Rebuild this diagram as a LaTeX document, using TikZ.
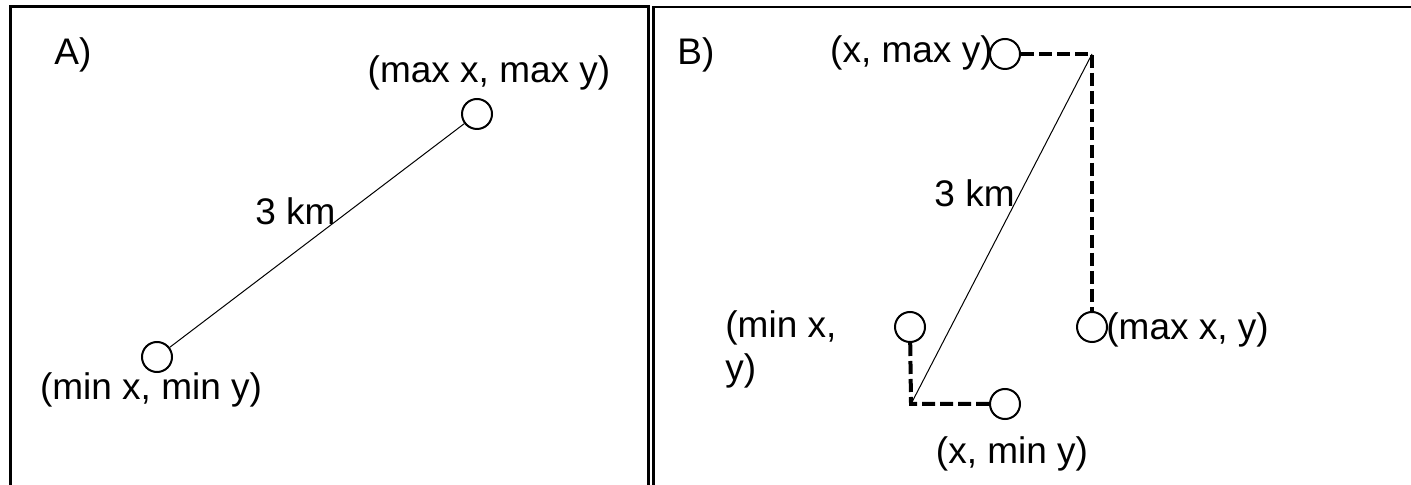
\documentclass[tikz,border=0pt]{standalone}
\usepackage{fontspec}
\setmainfont{Liberation Sans}
\usetikzlibrary{calc, positioning}

\tikzset{
  frame/.style={line width=1.5pt, line cap=rect},
  station/.style={circle, draw, line width=1pt, inner sep=0pt, minimum size=15pt},
  lbl/.style={inner sep=0pt, font=\fontsize{18.5}{21.5}\selectfont},
  dist/.style={line width=0.5pt},
  offset/.style={line width=2pt, dash pattern=on 6.5pt off 2.5pt}
}

\begin{document}
\begin{tikzpicture}[x=0.5pt, y=-0.5pt]
\useasboundingbox (0,0) rectangle (1411,485);

\draw[frame] (10,490) -- (10,7) -- (648.5,7) -- (648.5,490);
\draw[frame, line width=1.25pt] (653.5,490) -- (653.5,7) -- (1416,7);

% panel A
\node[lbl, anchor=base west] (tagA) at (54,65) {A)};
\node[station] (minA) at (157,357) {};
\node[station] (maxA) at (477,114) {};
\draw[dist] (minA) -- (maxA);
\node[lbl, anchor=base] (maxAtxt) at (489,83) {(max x, max y)};
\node[lbl, anchor=base] (minAtxt) at (151,400) {(min x, min y)};
\node[lbl, anchor=base east] (kmA) at (336,225) {3 km};

% panel B
\node[lbl, anchor=base west] (tagB) at (677,65) {B)};
\coordinate (TR) at (1092,54);
\coordinate (BL) at (911,404);
\node[station] (ymaxB) at (1005,54) {};
\node[station] (xmaxB) at (1092,327) {};
\node[station] (xminB) at (910,327) {};
\node[station] (yminB) at (1005,404) {};
\draw[offset] (ymaxB) -- (TR) -- (xmaxB);
\draw[offset] (xminB) -- (BL) -- (yminB);
\draw[dist] (TR) -- (BL);
\node[lbl, anchor=base east] (ymaxBtxt) at (993,63) {(x, max y)};
\node[lbl, anchor=base west] (xmaxBtxt) at (1106,340) {(max x, y)};
\node[lbl, anchor=base] (yminBtxt) at (1012,463) {(x, min y)};
\node[lbl, anchor=north west, align=left] (xminBtxt) at (725,310) {(min x,\\y)};
\node[lbl, anchor=base east] (kmB) at (1015,207) {3 km};
\end{tikzpicture}
\end{document}
